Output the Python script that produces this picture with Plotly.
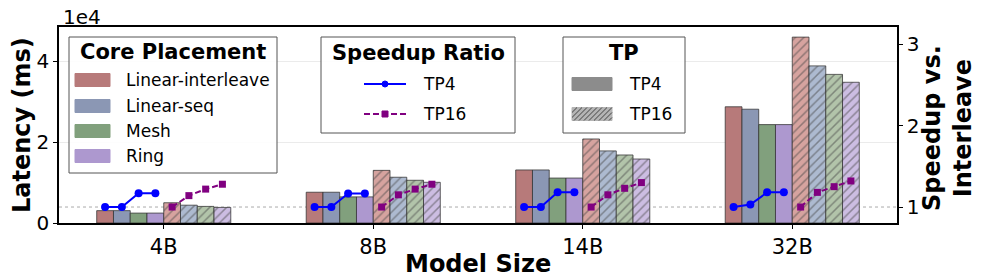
import plotly.graph_objects as go

# ---------------- data ----------------
models = ["4B", "8B", "14B", "32B"]
placements = ["Linear-interleave", "Linear-seq", "Mesh", "Ring"]

# latency (ms), TP4
lat_tp4_li = [3050, 7600, 13100, 28700]
lat_tp4_ls = [3050, 7600, 13100, 28100]
lat_tp4_mesh = [2450, 6450, 11100, 24300]
lat_tp4_ring = [2450, 6450, 11100, 24300]
# latency (ms), TP16
lat_tp16_li = [5000, 13000, 20750, 45900]
lat_tp16_ls = [4400, 11300, 17800, 38800]
lat_tp16_mesh = [4100, 10550, 16800, 36700]
lat_tp16_ring = [3850, 10050, 15800, 34750]

# speedup vs. interleave, per model: [LI, LS, Mesh, Ring]
speedup_tp4 = [
    [1.0, 1.0, 1.17, 1.17],
    [1.0, 1.0, 1.165, 1.165],
    [1.0, 1.0, 1.18, 1.18],
    [1.0, 1.03, 1.18, 1.18],
]
speedup_tp16 = [
    [1.0, 1.14, 1.22, 1.28],
    [1.0, 1.15, 1.22, 1.28],
    [1.0, 1.15, 1.23, 1.30],
    [1.0, 1.18, 1.25, 1.32],
]

# ---------------- style ----------------
FONT = "DejaVu Sans"
col_tp4 = ["#b77a7a", "#8b97b4", "#81a07d", "#ad98cf"]
col_tp16 = ["#d6a39f", "#adbad0", "#b2c4aa", "#ccbde2"]
BAR_W = 0.08
off_tp4 = [-0.28, -0.20, -0.12, -0.04]
off_tp16 = [0.04, 0.12, 0.20, 0.28]
DASH = "6px,3px"

# plot area in pixels
L, R, T, B = 59, 897, 27, 223
FW, FH = 997, 280


def px(x):
    return (x - L) / (R - L)


def py(y):
    return (B - y) / (B - T)


fig = go.Figure()

tp4_series = [lat_tp4_li, lat_tp4_ls, lat_tp4_mesh, lat_tp4_ring]
tp16_series = [lat_tp16_li, lat_tp16_ls, lat_tp16_mesh, lat_tp16_ring]
idx = list(range(len(models)))

for k, (name, vals) in enumerate(zip(placements, tp4_series)):
    fig.add_trace(go.Bar(
        x=[i + off_tp4[k] for i in idx], y=vals, width=BAR_W,
        marker=dict(color=col_tp4[k], line=dict(color="rgba(50,50,50,0.75)", width=1)),
        name=name + " TP4", showlegend=False, yaxis="y",
    ))
for k, (name, vals) in enumerate(zip(placements, tp16_series)):
    fig.add_trace(go.Bar(
        x=[i + off_tp16[k] for i in idx], y=vals, width=BAR_W,
        marker=dict(color=col_tp16[k],
                    line=dict(color="rgba(50,50,50,0.75)", width=1),
                    pattern=dict(shape="/", fgcolor="#4a4a4a", bgcolor=col_tp16[k],
                                 size=6, solidity=0.25, fillmode="overlay")),
        name=name + " TP16", showlegend=False, yaxis="y",
    ))


def line_xy(offsets, sp):
    xs, ys = [], []
    for i in idx:
        for k in range(4):
            xs.append(i + offsets[k])
            ys.append(sp[i][k])
        xs.append(None)
        ys.append(None)
    return xs, ys


x4, y4 = line_xy(off_tp4, speedup_tp4)
x16, y16 = line_xy(off_tp16, speedup_tp16)
fig.add_trace(go.Scatter(
    x=x4, y=y4, yaxis="y2", mode="lines+markers", connectgaps=False,
    line=dict(color="blue", width=2), marker=dict(symbol="circle", size=8, color="blue"),
    name="TP4", showlegend=False,
))
fig.add_trace(go.Scatter(
    x=x16, y=y16, yaxis="y2", mode="lines+markers", connectgaps=False,
    line=dict(color="purple", width=2, dash=DASH),
    marker=dict(symbol="square", size=7, color="purple"),
    name="TP16", showlegend=False,
))

shapes = []
annotations = []

# dotted reference line at speedup = 1
shapes.append(dict(type="line", xref="paper", yref="y2", x0=0, x1=1, y0=1, y1=1,
                   line=dict(color="#aaaaaa", width=1, dash="dot"), layer="below"))


def box(x0, y0, x1, y1):
    shapes.append(dict(type="rect", xref="paper", yref="paper",
                       x0=px(x0), x1=px(x1), y0=py(y1), y1=py(y0),
                       fillcolor="rgba(255,255,255,0.9)",
                       line=dict(color="#555555", width=1), layer="above"))


def swatch(x0, y0, x1, y1, color):
    shapes.append(dict(type="rect", xref="paper", yref="paper",
                       x0=px(x0), x1=px(x1), y0=py(y1), y1=py(y0),
                       fillcolor=color, line=dict(color=color, width=1), layer="above"))


def hatch(x0, y0, x1, y1, step=5):
    h = y1 - y0
    parts = []
    s = x0 - h
    while s < x1:
        t0 = max(0.0, (x0 - s) / h)
        t1 = min(1.0, (x1 - s) / h)
        if t1 > t0:
            ax, ay = s + t0 * h, y1 - t0 * h
            bx, by = s + t1 * h, y1 - t1 * h
            parts.append(f"M{px(ax):.5f},{py(ay):.5f} L{px(bx):.5f},{py(by):.5f}")
        s += step
    shapes.append(dict(type="path", xref="paper", yref="paper", path=" ".join(parts),
                       line=dict(color="#444444", width=1), layer="above"))


def text(x, y, s, size=17, bold=False, anchor="left"):
    annotations.append(dict(x=px(x), y=py(y), xref="paper", yref="paper", text=s,
                            showarrow=False, xanchor=anchor, yanchor="middle",
                            font=dict(family=FONT, size=size, color="black",
                                      weight="bold" if bold else "normal")))


# Legend 1: Core Placement
box(69, 37, 277, 173)
text(173, 52, "Core Placement", size=21, bold=True, anchor="center")
for k, (name, yy) in enumerate(zip(placements, [80, 106, 131, 156])):
    swatch(75, yy - 6.5, 110, yy + 6.5, col_tp4[k])
    text(124, yy, name)

# Legend 2: Speedup Ratio
box(321, 37, 515, 133)
text(418, 53, "Speedup Ratio", size=21, bold=True, anchor="center")
shapes.append(dict(type="line", xref="paper", yref="paper", x0=px(364), x1=px(406),
                   y0=py(84), y1=py(84), line=dict(color="blue", width=2), layer="above"))
shapes.append(dict(type="circle", xref="paper", yref="paper", x0=px(382), x1=px(388),
                   y0=py(87), y1=py(81), fillcolor="blue", line=dict(color="blue", width=1),
                   layer="above"))
shapes.append(dict(type="line", xref="paper", yref="paper", x0=px(364), x1=px(406),
                   y0=py(114), y1=py(114), line=dict(color="purple", width=2, dash=DASH),
                   layer="above"))
shapes.append(dict(type="rect", xref="paper", yref="paper", x0=px(382), x1=px(388),
                   y0=py(117), y1=py(111), fillcolor="purple",
                   line=dict(color="purple", width=1), layer="above"))
text(421, 84, "TP4")
text(421, 114, "TP16")

# Legend 3: TP
box(563, 37, 685, 133)
text(624, 53, "TP", size=21, bold=True, anchor="center")
swatch(572, 77.5, 612, 90.5, "#8c8c8c")
swatch(572, 107.5, 612, 120.5, "#b4b4b4")
hatch(572, 107.5, 612, 120.5)
text(627, 84, "TP4")
text(627, 114, "TP16")

# offset text for left axis
text(61, 17, "1e4", size=20)

# axis titles
annotations.append(dict(x=px(22), y=py(125), xref="paper", yref="paper",
                        text="Latency (ms)", showarrow=False, textangle=-90,
                        xanchor="center", yanchor="middle",
                        font=dict(family=FONT, size=24, color="black", weight="bold")))
annotations.append(dict(x=px(478), y=py(264), xref="paper", yref="paper",
                        text="Model Size", showarrow=False,
                        xanchor="center", yanchor="middle",
                        font=dict(family=FONT, size=24, color="black", weight="bold")))
annotations.append(dict(x=px(947), y=py(128), xref="paper", yref="paper",
                        text="Speedup vs.<br>Interleave", showarrow=False, textangle=-90,
                        xanchor="center", yanchor="middle",
                        font=dict(family=FONT, size=24, color="black", weight="bold")))

fig.update_layout(
    width=FW, height=FH,
    margin=dict(l=L, r=FW - R, t=T, b=FH - B),
    plot_bgcolor="white", paper_bgcolor="white",
    barmode="overlay", showlegend=False,
    font=dict(family=FONT, size=20, color="black"),
    xaxis=dict(range=[-0.5, 3.5], tickvals=idx, ticktext=models,
               showline=True, linecolor="black", linewidth=1.5, mirror=True,
               ticks="outside", ticklen=4, tickcolor="black", showgrid=False,
               zeroline=False, tickfont=dict(size=21)),
    yaxis=dict(range=[0, 48400], tickvals=[0, 20000, 40000], ticktext=["0", "2", "4"],
               showline=True, linecolor="black", linewidth=1.5, mirror=True,
               ticks="outside", ticklen=4, tickcolor="black",
               showgrid=True, gridcolor="#ebebeb", gridwidth=1, zeroline=False,
               tickfont=dict(size=20)),
    yaxis2=dict(range=[0.804, 3.21], tickvals=[1, 2, 3], overlaying="y", side="right",
                showline=True, linecolor="black", linewidth=1.5,
                ticks="outside", ticklen=4, tickcolor="black", showgrid=False,
                zeroline=False, tickfont=dict(size=20)),
    shapes=shapes, annotations=annotations,
)

fig.write_html("out.html", config={"displayModeBar": False},
               post_script="document.body.style.margin='0';document.body.style.overflow='hidden';")
